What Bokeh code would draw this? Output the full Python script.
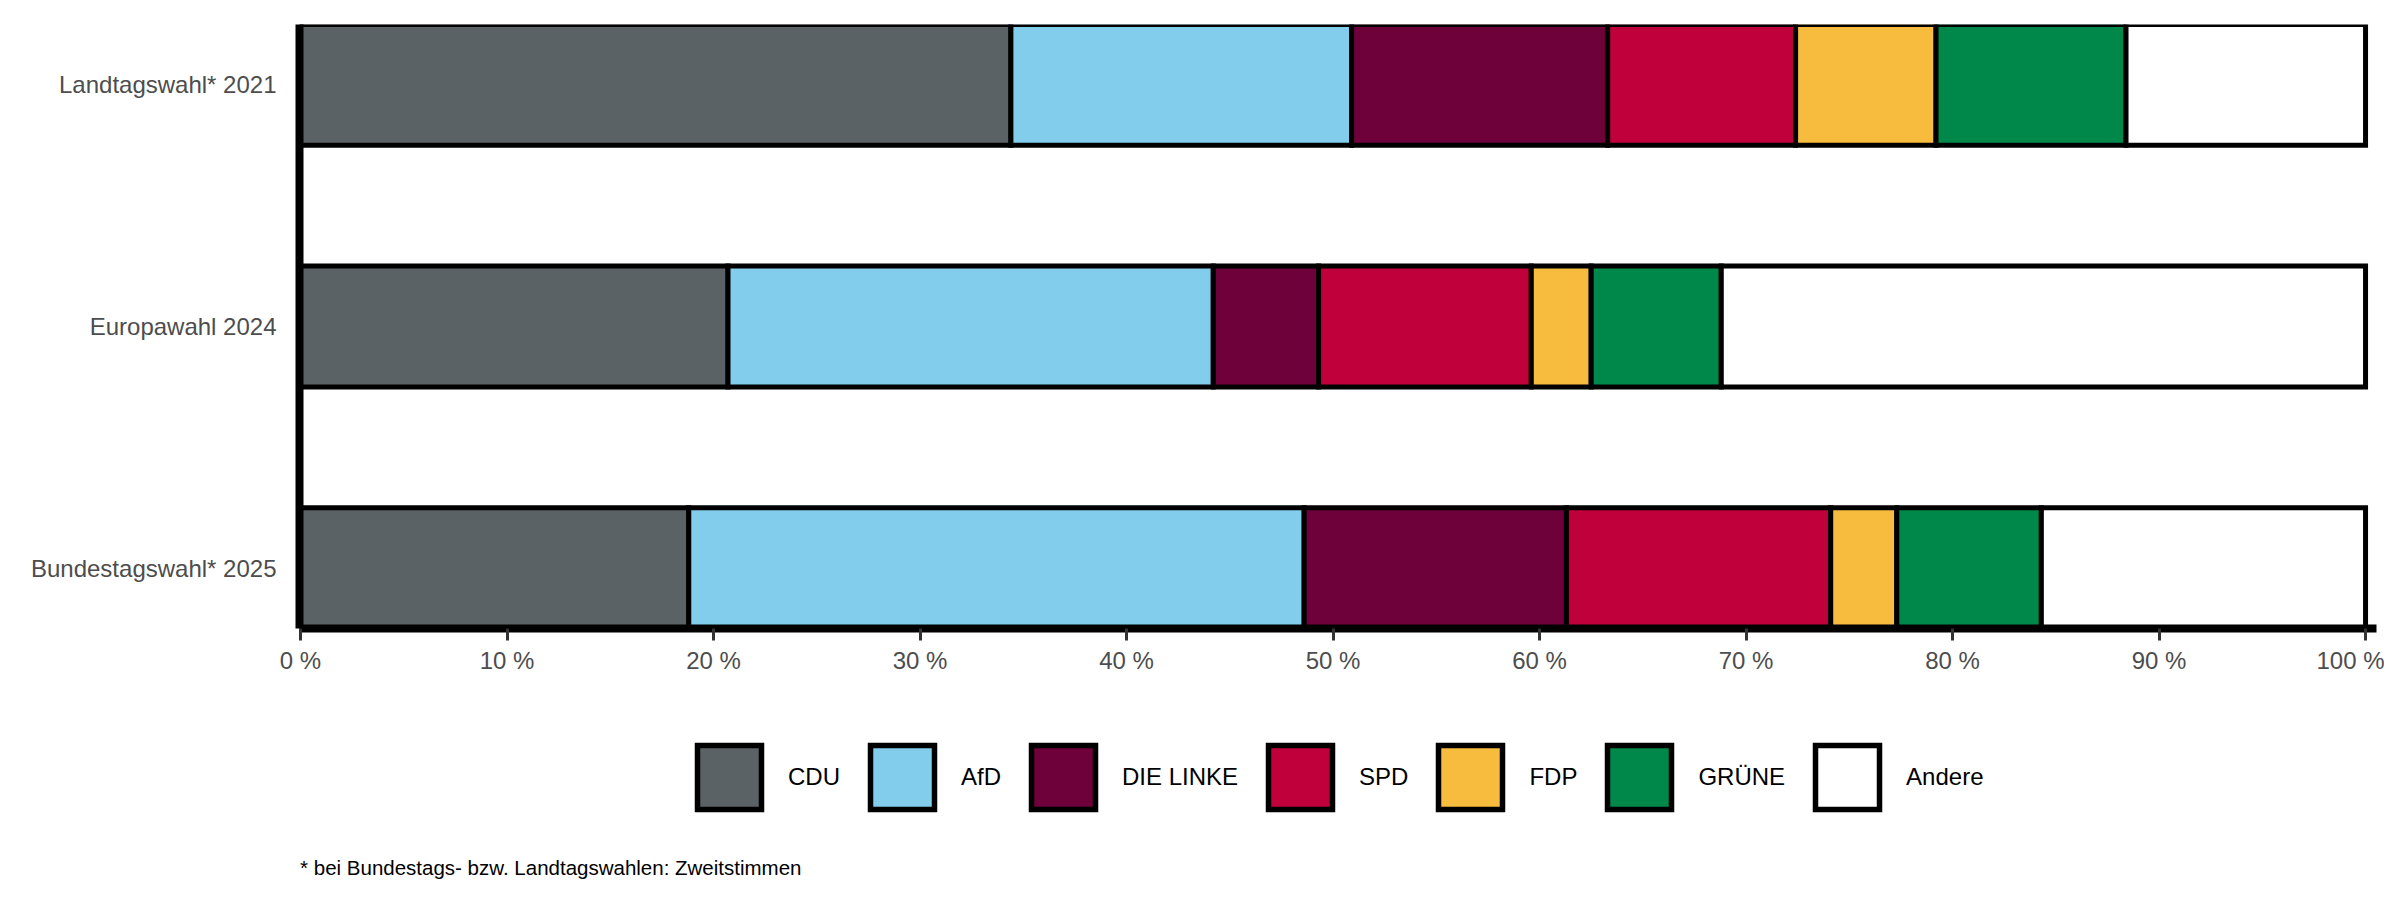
from bokeh.plotting import figure
from bokeh.layouts import column
from bokeh.models import (ColumnDataSource, Range1d, FixedTicker, Legend, LegendItem, Label)
from bokeh.embed import file_html
from bokeh.resources import INLINE

# ---- data ----
elections = ["Landtagswahl* 2021", "Europawahl 2024", "Bundestagswahl* 2025"]
parties = ["CDU", "AfD", "DIE LINKE", "SPD", "FDP", "GRÜNE", "Andere"]
colors = ["#5a6265", "#82ccec", "#6e003a", "#c0003b", "#f7bb3e", "#00874a", "#ffffff"]
cdu = [34.4, 20.7, 18.8]
afd = [16.5, 23.5, 29.8]
linke = [12.4, 5.1, 12.7]
spd = [9.1, 10.3, 12.8]
fdp = [6.8, 2.9, 3.2]
gruene = [9.2, 6.3, 7.0]
andere = [11.6, 31.2, 15.7]
x_ticks = [0, 10, 20, 30, 40, 50, 60, 70, 80, 90, 100]
x_tick_labels = ["0 %", "10 %", "20 %", "30 %", "40 %", "50 %", "60 %", "70 %", "80 %", "90 %", "100 %"]
footnote = "* bei Bundestags- bzw. Landtagswahlen: Zweitstimmen"

FONT = "Liberation Sans"
W = 2384
ypos = list(range(len(elections)))
source = ColumnDataSource(dict(y=ypos, CDU=cdu, AfD=afd, **{"DIE LINKE": linke}, SPD=spd, FDP=fdp,
                               **{"GRÜNE": gruene}, Andere=andere))

# ---- main bar chart ----
p = figure(width=W, height=688,
           min_border_left=299, min_border_right=8, min_border_top=24, min_border_bottom=60,
           x_range=Range1d(-0.05, 100.53), y_range=Range1d(len(elections) - 0.75, -0.25),
           output_backend="svg", toolbar_location=None, tools="")
p.outline_line_color = None
p.background_fill_color = "white"
p.border_fill_color = "white"
p.xgrid.visible = False
p.ygrid.visible = False

p.hbar_stack(parties, y="y", height=0.5, source=source, color=colors,
             line_color="black", line_width=5, line_join="miter")

xa = p.xaxis[0]
xa.ticker = FixedTicker(ticks=x_ticks)
xa.major_label_overrides = {t: l for t, l in zip(x_ticks, x_tick_labels)}
xa.minor_tick_line_color = None
xa.major_tick_in = 0
xa.major_tick_out = 12
xa.major_tick_line_color = "#333333"
xa.major_tick_line_width = 3
xa.axis_line_color = "black"
xa.axis_line_width = 8
xa.major_label_text_font = FONT
xa.major_label_text_font_size = "24px"
xa.major_label_text_color = "#4d4d4d"
xa.major_label_standoff = 6

ya = p.yaxis[0]
ya.ticker = FixedTicker(ticks=ypos)
ya.major_label_overrides = {i: e for i, e in zip(ypos, elections)}
ya.minor_tick_line_color = None
ya.major_tick_line_color = None
ya.major_tick_in = 0
ya.major_tick_out = 0
ya.axis_line_color = "black"
ya.axis_line_width = 8
ya.major_label_text_font = FONT
ya.major_label_text_font_size = "24px"
ya.major_label_text_color = "#4d4d4d"
ya.major_label_standoff = 23

# ---- legend + footnote strip (frame aligned with the chart's frame) ----
H2 = 884 - 688
q = figure(width=W, height=H2, min_border=0, x_range=Range1d(0, 1), y_range=Range1d(0, 1),
           output_backend="svg", toolbar_location=None, tools="")
q.axis.visible = False
q.xgrid.visible = False
q.ygrid.visible = False
q.outline_line_color = None
q.background_fill_color = "white"
q.border_fill_color = "white"

nan = float("nan")
items = []
for name, col in zip(parties, colors):
    r = q.hbar(y=[nan], right=[nan], height=0.5, fill_color=col,
               line_color="black", line_width=5.5, line_join="miter")
    items.append(LegendItem(label=name, renderers=[r]))

legend = Legend(items=items, orientation="horizontal", location=(390, 67),
                glyph_width=80, glyph_height=80, label_standoff=19, spacing=22, padding=0,
                border_line_color=None, background_fill_alpha=0,
                label_text_font=FONT, label_text_font_size="24px", label_text_color="black")
q.add_layout(legend, "center")

q.add_layout(Label(x=0.6, y=17, x_units="screen", y_units="screen", text=footnote,
                   text_font=FONT, text_font_size="20.5px", text_color="black",
                   text_baseline="alphabetic", text_align="left"))

layout = column(p, q, spacing=0)
open("out.html", "w").write(file_html(layout, INLINE))
